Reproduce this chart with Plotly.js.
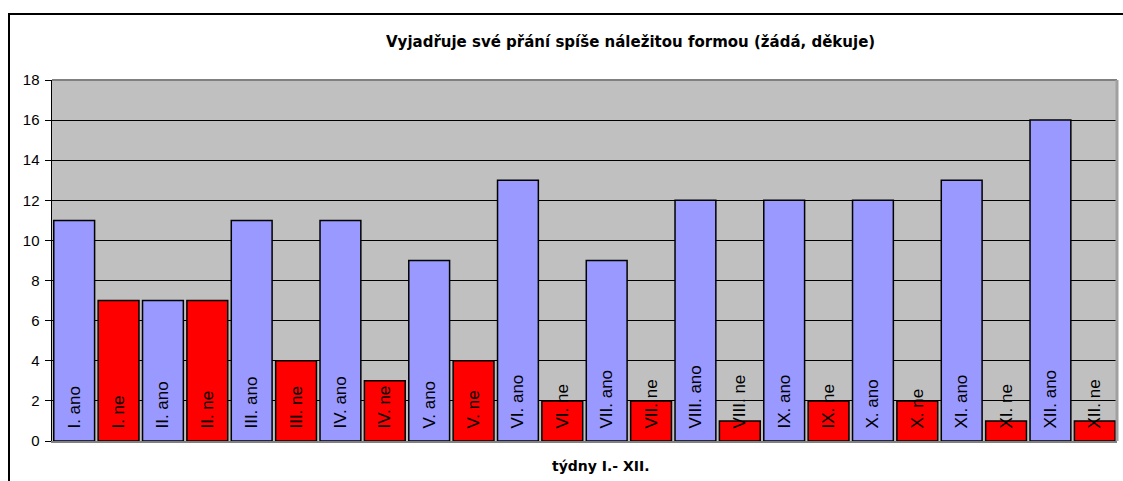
<!DOCTYPE html>
<html>
<head>
<meta charset="utf-8">
<script src="https://cdn.plot.ly/plotly-3.0.1.min.js"></script>
<style>html,body{margin:0;padding:0;background:#fff;}#chart{width:1123px;height:481px;}</style>
</head>
<body>
<div id="chart"></div>
<script>
const weeks = ['I.', 'II.', 'III.', 'IV.', 'V.', 'VI.', 'VII.', 'VIII.', 'IX.', 'X.', 'XI.', 'XII.'];
const anoValues = [11, 7, 11, 11, 9, 13, 9, 12, 12, 12, 13, 16];
const neValues = [7, 7, 4, 3, 4, 2, 2, 1, 2, 2, 1, 1];
const anoLabel = 'ano';
const neLabel = 'ne';
const yTicks = [0, 2, 4, 6, 8, 10, 12, 14, 16, 18];
const chartTitle = 'Vyjadřuje své přání spíše náležitou formou (žádá, děkuje)';
const xTitle = 'týdny I.- XII.';

const cats = [], vals = [], labels = [], colors = [];
const pad = '\u00A0\u00A0';
weeks.forEach((w, i) => {
  cats.push(w + ' ' + anoLabel); vals.push(anoValues[i]); labels.push(pad + w + ' ' + anoLabel); colors.push('#9999FF');
  cats.push(w + ' ' + neLabel); vals.push(neValues[i]); labels.push(pad + w + ' ' + neLabel); colors.push('#FF0000');
});

const trace = {
  type: 'bar',
  x: cats,
  y: vals,
  text: labels,
  textposition: 'inside',
  insidetextanchor: 'start',
  textangle: -90,
  constraintext: 'none',
  textfont: {family: 'Liberation Sans, Arial, sans-serif', size: 17, color: '#000'},
  marker: {color: colors, line: {color: '#000', width: 1.5}},
  hoverinfo: 'none',
  cliponaxis: false
};

const L = 52, R = 1117, T = 80, B = 441;
const pw = R - L, ph = B - T;
const px = v => (v - L) / pw;
const py = v => (B - v) / ph;

const layout = {
  width: 1123, height: 481,
  margin: {l: L, r: 1123 - R, t: T, b: 481 - B},
  paper_bgcolor: '#ffffff',
  plot_bgcolor: '#C0C0C0',
  bargap: 0.08,
  showlegend: false,
  font: {family: 'Liberation Sans, Arial, sans-serif', color: '#000'},
  xaxis: {
    type: 'category',
    showticklabels: false,
    showgrid: false,
    zeroline: false,
    showline: true, linecolor: '#808080', linewidth: 2,
    ticks: '', fixedrange: true
  },
  yaxis: {
    range: [0, 18],
    tickvals: yTicks,
    ticktext: yTicks.map(String),
    showgrid: true, gridcolor: '#000', gridwidth: 1,
    zeroline: false,
    showline: true, linecolor: '#000', linewidth: 1.5,
    ticks: 'outside', ticklen: 6, tickcolor: '#000', tickwidth: 1,
    tickfont: {size: 15, family: 'Liberation Sans, Arial, sans-serif'},
    ticklabelstandoff: 2,
    fixedrange: true
  },
  shapes: [
    {type: 'rect', xref: 'paper', yref: 'paper', x0: px(9), x1: px(1200), y0: py(600), y1: py(14), line: {color: '#000', width: 2}, fillcolor: 'rgba(0,0,0,0)', layer: 'above'},
    {type: 'line', xref: 'paper', yref: 'paper', x0: 0, x1: 1, y0: 1, y1: 1, line: {color: '#808080', width: 2}},
    {type: 'line', xref: 'paper', yref: 'paper', x0: 1, x1: 1, y0: 0, y1: 1, line: {color: '#A0A0A0', width: 3}}
  ],
  annotations: [
    {text: '<b>' + chartTitle + '</b>', xref: 'paper', yref: 'paper', x: px(630), y: py(42), xanchor: 'center', yanchor: 'middle', showarrow: false, font: {size: 15, family: 'DejaVu Sans, sans-serif'}},
    {text: '<b>' + xTitle + '</b>', xref: 'paper', yref: 'paper', x: px(601), y: py(466), xanchor: 'center', yanchor: 'middle', showarrow: false, font: {size: 14, family: 'DejaVu Sans, sans-serif'}}
  ]
};

Plotly.newPlot('chart', [trace], layout, {displayModeBar: false, staticPlot: true});
</script>
</body>
</html>
